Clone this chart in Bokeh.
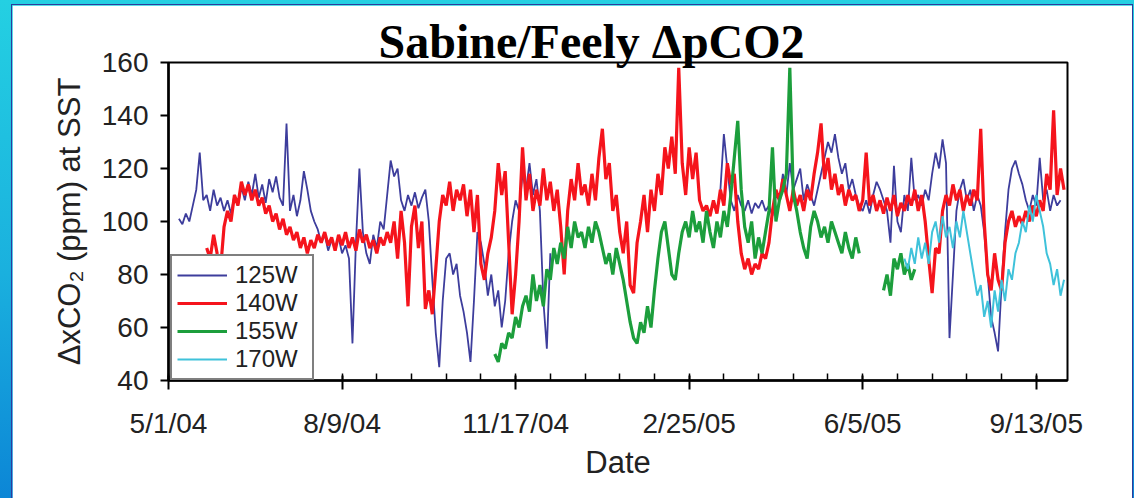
import numpy as np
from bokeh.plotting import figure
from bokeh.layouts import column
from bokeh.models import Range1d, FixedTicker, Legend, LegendItem
from bokeh.embed import file_html
from bokeh.resources import INLINE

NaN = float("nan")

# ---------------- data (days since 5/1/04, sampled every 2 days) ----------------
tick_days = [0, 100, 200, 300, 400, 500]
tick_labels = ["5/1/04", "8/9/04", "11/17/04", "2/25/05", "6/5/05", "9/13/05"]
y_ticks = [40, 60, 80, 100, 120, 140, 160]

w125_start = 6
w125 = [101, 99, 103, 100, 106, 112, 126, 108, 110, 104, 112, 106, 109,
        104, 108, 103, 110, 106, 113, 108, 115, 110, 118, 109, 114, 107, 116, 111, 117,
        109, 106, 137, 104, 110, 102, 108, 119, 112, 104, 100,
        97, 92, 95, 89, 93, 90, 94, 88,
        91, 86, 54, 92, 120, 96,
        88, 84, 95, 90, 100, 97,
        110, 123, 117, 120,
        108, 104, 110, 106, 111, 105, 109, 112,
        100, 78, 58, 45, 70, 86,
        88, 80, 84, 72, 66, 58, 47, 70, 96, 92,
        84, 72, 80, 68, 74, 60, 70,
        88, 100, 108, 104, 118, 112, 122, 110, 116, 104,
        70, 52, 88] + [NaN] * 48 + [
        112, 133, 120, 108, 104, 110, 106, 104, 108, 103, 107, 105, 108, 104,
        106, 102, 110, 108,
        118, 110, 122, 112, 116, 120, 108, 114, 110, 106,
        112, 118, 124, 130, 126, 133, 124, 118, 122, 112, 116, 110,
        106, 104, 108, 103, 110, 115, 112,
        108, 104, 92, 121, 100, 96, 110, 104, 124, 108,
        110, 106, 112, 108, 118, 126, 120, 131, 122,
        56, 80, 104, 112,
        116, 108, 112, 104, 110, 106,
        96, 80, 64, 58, 51, 76,
        96, 112, 120, 123, 118, 114,
        108, 104, 110, 106, 124, 108, 112, 104, 110, 106, 108]

w140_start = 22
w140 = [90, 86, 95, 88, 82, 98, 104, 100, 110, 106, 115, 110, 114, 108, 112, 106,
        109, 103, 106, 100, 103, 97, 101, 95, 98, 93, 96, 90, 94, 88, 93, 90,
        95, 92, 96, 91, 94, 89, 95, 91, 96, 90, 94, 89, 97, 92, 95, 90, 93, 88,
        94, 91, 96, 92, 100, 86, 104, 92, 68, 98, 106, 90, 100, 67, 74, 65, 82,
        100, 110, 106, 115, 104, 112, 108, 114, 102, 112, 96, 110, 84, 78, 88,
        94, 104, 122, 110, 119, 92, 65, 80, 100, 128, 108, 118, 104, 112, 106,
        120, 108, 115, 104, 112, 98, 80, 104, 116, 108, 122, 110, 114, 106, 118,
        108, 124, 135, 116, 122, 104, 110, 96, 88, 100, 76, 73, 92, 100, 110,
        96, 112, 104, 118, 110, 128, 120, 132, 118, 158, 122, 110, 128, 116,
        126, 108, 104, 106, 102, 108, 103, 112, 106, 122, 114, 118, 100, 88,
        82, 86, 80, 84, 82, 88, 86, 92, 104, 112, 108, 116, 110, 104, 112, 106,
        110, 104, 112, 108, 118, 126, 137, 116, 124, 112, 118, 110, 114, 106,
        112, 108, 110, 104, 108, 126, 106, 110, 104, 108, 103, 109, 104, 110,
        102, 107, 104, 110, 106, 112, 104, 110, 100, 86, 73, 90, 88, 104, 110,
        106, 114, 108, 112, 104, 110, 106, 112, 108, 135, 100, 80, 74, 88, 78,
        74, 92, 100, 104, 98, 102, 99, 104, 100, 106, 102, 108, 104, 118, 112,
        142, 110, 120, 112]

w155_start = 188
w155 = [50, 47, 54, 52, 58, 56, 64, 60, 68, 72, 66, 80, 70, 76, 68, 82, 78, 90,
        84, 92, 86, 98, 90, 100, 94, 96, 90, 98, 92, 100, 96, 90, 84, 88, 80,
        90, 84, 78, 70, 62, 56, 54, 62, 58, 68, 60, 74, 86, 96, 100, 90, 80,
        78, 88, 96, 100, 94, 104, 96, 100, 92, 104, 96, 90, 100, 94, 104, 98,
        110, 124, 138, 112, 98, 92, 100, 86, 94, 88, 96, 104, 128, 100, 108,
        112, 118, 158, 110, 104, 96, 90, 86, 98, 104, 100, 94, 98, 92, 100, 96,
        92, 88, 96, 90, 86, 94, 88] + [NaN] * 6 + [
        74, 80, 72, 86, 82, 88, 80, 84, 78, 82]

w170_start = 424
w170 = [86, 82, 90, 84, 94, 86, 92, 84, 96, 100, 92, 102, 94, 98, 90, 100, 94,
        104, 96, 88, 80, 72, 76, 64, 70, 60, 74, 66, 78, 70, 82, 78, 88, 92,
        100, 96, 106, 100, 110, 104, 98, 88, 84, 76, 82, 72, 78]

series = [
    ("125W", w125_start, w125, "#3d3d9c", 1.8),
    ("140W", w140_start, w140, "#f5141c", 3.2),
    ("155W", w155_start, w155, "#1c9e3c", 3.2),
    ("170W", w170_start, w170, "#3fc2da", 2.0),
]

# ---------------- figure ----------------
p = figure(width=1120, height=493, output_backend="svg", toolbar_location=None,
           x_range=Range1d(0, 518), y_range=Range1d(40, 160),
           min_border_left=156, min_border_right=65,
           min_border_top=57, min_border_bottom=118)
p.border_fill_color = "white"
p.background_fill_color = "white"
p.grid.visible = False
p.outline_line_color = "black"
p.outline_line_width = 2

items = []
for name, start, vals, color, lw in series:
    days = start + 2 * np.arange(len(vals))
    r = p.line(days, np.array(vals, dtype=float), line_color=color, line_width=lw)
    items.append(LegendItem(label=name, renderers=[r]))

FONT = "Liberation Sans"
for ax in (p.xaxis[0], p.yaxis[0]):
    ax.axis_line_width = 2.5
    ax.axis_line_color = "black"
    ax.major_tick_line_width = 2
    ax.major_tick_line_color = "black"
    ax.minor_tick_line_width = 1.5
    ax.minor_tick_line_color = "black"
    ax.major_label_text_font = FONT
    ax.major_label_text_font_size = "28px"
    ax.major_label_text_color = "#222222"
    ax.axis_label_text_font = FONT
    ax.axis_label_text_font_size = "31px"
    ax.axis_label_text_font_style = "normal"
    ax.axis_label_text_color = "#222222"

xa = p.xaxis[0]
xa.ticker = FixedTicker(ticks=tick_days, minor_ticks=list(range(0, 520, 20)))
xa.major_label_overrides = {d: l for d, l in zip(tick_days, tick_labels)}
xa.major_tick_in = 5
xa.major_tick_out = 9
xa.minor_tick_in = 7
xa.minor_tick_out = 0
xa.major_label_standoff = 18
xa.axis_label = "Date"
xa.axis_label_standoff = 3

ya = p.yaxis[0]
ya.ticker = FixedTicker(ticks=y_ticks, minor_ticks=[])
ya.major_tick_in = 0
ya.major_tick_out = 8
ya.major_label_standoff = 12
ya.axis_label = "ΔxCO₂ (ppm) at SST"
ya.axis_label_standoff = 12

legend = Legend(items=items, location=(2, 0), orientation="vertical",
                border_line_color="black", border_line_width=2,
                background_fill_color="white", background_fill_alpha=1.0,
                label_text_font=FONT, label_text_font_size="24px",
                label_text_color="#222222",
                glyph_width=50, glyph_height=18, label_height=18, label_width=72,
                spacing=0, padding=5, margin=0, label_standoff=8)
p.add_layout(legend)

p.title.text = "Sabine/Feely ΔpCO2"
p.title.align = "left"
p.title.offset = 210
p.title.standoff = -11
p.title.vertical_align = "bottom"
p.title.text_font = "Liberation Serif"
p.title.text_font_style = "bold"
p.title.text_font_size = "48px"
p.title.text_color = "black"
p.styles = {"outline": "1.5px solid #2c3c9c"}

# ---------------- slide frame (gradient border around white panel) ----------------
page = column(p, styles={
    "background": "linear-gradient(to bottom, #24d0e2 0%, #1ab0de 55%, #0c86d6 100%)",
    "padding": "5px 2px 0px 12px",
})

open("out.html", "w").write(file_html(page, INLINE))
